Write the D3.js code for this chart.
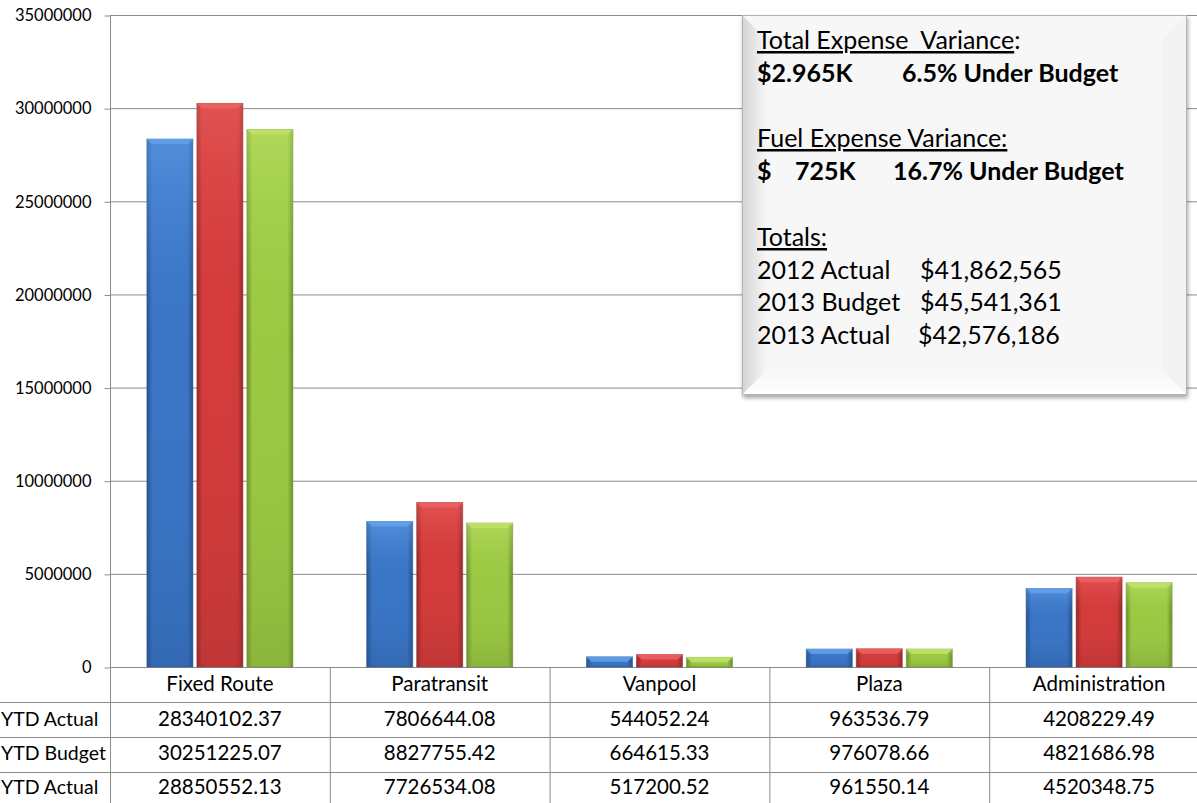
<!DOCTYPE html>
<html>
<head>
<meta charset="utf-8">
<script src="https://cdn.jsdelivr.net/npm/d3@7/dist/d3.min.js"></script>
<style>
  body { margin: 0; background: #fff; }
  svg { display: block; font-family: Lato, "Open Sans", sans-serif; }
</style>
</head>
<body>
<div id="chart"></div>
<script>
// data
const categories = ["Fixed Route", "Paratransit", "Vanpool", "Plaza", "Administration"]
const seriesYears = ["2012", "2013", "2013"]
const seriesLabels = ["YTD Actual", "YTD Budget", "YTD Actual"]
const seriesNames = seriesYears.map((y, i) => y + " " + seriesLabels[i])
const actual2012 = [28340102.37, 7806644.08, 544052.24, 963536.79, 4208229.49]
const budget2013 = [30251225.07, 8827755.42, 664615.33, 976078.66, 4821686.98]
const actual2013 = [28850552.13, 7726534.08, 517200.52, 961550.14, 4520348.75]
const yTicks = [0, 5000000, 10000000, 15000000, 20000000, 25000000, 30000000, 35000000]
const tableText = [
  ["28340102.37", "7806644.08", "544052.24", "963536.79", "4208229.49"],
  ["30251225.07", "8827755.42", "664615.33", "976078.66", "4821686.98"],
  ["28850552.13", "7726534.08", "517200.52", "961550.14", "4520348.75"]
]

const series = [actual2012, budget2013, actual2013]

const width = 1197
const height = 803
const plotLeft = 110
const plotRight = 1209   // plot runs past the right edge, as in the picture
const plotTop = 15
const base = 667
const rowLines = [702, 737, 772]
const rowMid = [684, 719, 753, 787]
const cellFont = 20.5

const svg = d3.select("#chart").append("svg")
    .attr("width", width)
    .attr("height", height)

const defs = svg.append("defs")

const palette = [
  { main: "#3b76c6", light: "#64a2ea", dark: "#2a5a9a", edge: "#244f88" },
  { main: "#d43c3c", light: "#ec6464", dark: "#a52f2f", edge: "#902727" },
  { main: "#9cc944", light: "#c0e46c", dark: "#789d32", edge: "#688a2b" }
]

palette.forEach((c, i) => {
  const g = defs.append("linearGradient").attr("id", "barH" + i)
      .attr("x1", 0).attr("x2", 1).attr("y1", 0).attr("y2", 0)
  g.append("stop").attr("offset", "0").attr("stop-color", c.edge)
  g.append("stop").attr("offset", "0.12").attr("stop-color", c.main)
  g.append("stop").attr("offset", "0.88").attr("stop-color", c.main)
  g.append("stop").attr("offset", "1").attr("stop-color", c.edge)

  const v = defs.append("linearGradient").attr("id", "barV" + i)
      .attr("x1", 0).attr("x2", 0).attr("y1", 0).attr("y2", 1)
  v.append("stop").attr("offset", "0").attr("stop-color", c.light).attr("stop-opacity", 0.55)
  v.append("stop").attr("offset", "0.4").attr("stop-color", c.main).attr("stop-opacity", 0)
  v.append("stop").attr("offset", "1").attr("stop-color", c.dark).attr("stop-opacity", 0.45)
})

const bevelL = defs.append("linearGradient").attr("id", "bevelL")
    .attr("x1", 0).attr("x2", 1).attr("y1", 0).attr("y2", 0)
bevelL.append("stop").attr("offset", "0").attr("stop-color", "#d4d4d4")
bevelL.append("stop").attr("offset", "1").attr("stop-color", "#f6f6f6")

const bevelB = defs.append("linearGradient").attr("id", "bevelB")
    .attr("x1", 0).attr("x2", 0).attr("y1", 0).attr("y2", 1)
bevelB.append("stop").attr("offset", "0").attr("stop-color", "#f7f7f7")
bevelB.append("stop").attr("offset", "1").attr("stop-color", "#ffffff")

const shadow = defs.append("filter").attr("id", "shadow")
    .attr("x", "-5%").attr("y", "-5%").attr("width", "115%").attr("height", "115%")
shadow.append("feDropShadow").attr("dx", 1).attr("dy", 3).attr("stdDeviation", 2)
    .attr("flood-color", "#000").attr("flood-opacity", 0.35)

// scales
const yScale = d3.scaleLinear().domain([0, 35000000]).range([base, plotTop])
const xScale = d3.scaleBand().domain(categories).range([plotLeft, plotRight])
const inner = d3.scaleBand().domain(seriesNames).range([0, 146]).paddingInner(0.08)
const groupOffset = (xScale.bandwidth() - 146) / 2

// gridlines
svg.append("g")
  .selectAll("line")
  .data(yTicks)
  .join("line")
    .attr("x1", plotLeft)
    .attr("x2", plotRight)
    .attr("y1", d => yScale(d) + 0.5)
    .attr("y2", d => yScale(d) + 0.5)
    .attr("stroke", "#8c8c8c")

// y axis
const yAxis = d3.axisLeft(yScale)
    .tickValues(yTicks)
    .tickFormat(d => String(d))
    .tickSize(6)
    .tickPadding(13)

const yg = svg.append("g")
    .attr("transform", "translate(" + (plotLeft + 0.5) + ",0.5)")
    .call(yAxis)
yg.select(".domain").remove()
yg.selectAll(".tick line").attr("stroke", "#8c8c8c")
yg.selectAll(".tick text")
    .attr("font-family", "Lato, sans-serif")
    .attr("font-size", 16.5)
    .attr("fill", "#000")

svg.append("line")
    .attr("x1", plotLeft + 0.5).attr("x2", plotLeft + 0.5)
    .attr("y1", plotTop).attr("y2", height)
    .attr("stroke", "#8c8c8c")

// bars
const bars = []
series.forEach((vals, s) => {
  vals.forEach((v, c) => bars.push({ s: s, cat: categories[c], value: v }))
})

const barX = d => xScale(d.cat) + groupOffset + inner(seriesNames[d.s])
const barW = inner.bandwidth()

const barG = svg.append("g")
barG.selectAll("rect.bar")
  .data(bars)
  .join("rect")
    .attr("class", "bar")
    .attr("x", barX)
    .attr("y", d => yScale(d.value))
    .attr("width", barW)
    .attr("height", d => base - yScale(d.value))
    .attr("fill", d => "url(#barH" + d.s + ")")
    .attr("stroke", d => palette[d.s].edge)
    .attr("stroke-opacity", 0.5)

barG.selectAll("rect.shade")
  .data(bars)
  .join("rect")
    .attr("class", "shade")
    .attr("x", barX)
    .attr("y", d => yScale(d.value))
    .attr("width", barW)
    .attr("height", d => base - yScale(d.value))
    .attr("fill", d => "url(#barV" + d.s + ")")

// top bevel of each bar
barG.selectAll("path.cap")
  .data(bars)
  .join("path")
    .attr("class", "cap")
    .attr("d", d => {
      const x0 = barX(d), y0 = yScale(d.value)
      const h = Math.min(5, (base - y0) / 2)
      return "M" + x0 + "," + y0 + "H" + (x0 + barW) + "l-5," + h + "H" + (x0 + 5) + "Z"
    })
    .attr("fill", d => palette[d.s].light)
    .attr("opacity", 0.8)

// data table under the chart
const table = svg.append("g")

table.selectAll("line.row")
  .data(rowLines)
  .join("line")
    .attr("class", "row")
    .attr("x1", 0).attr("x2", plotRight)
    .attr("y1", d => d + 0.5).attr("y2", d => d + 0.5)
    .attr("stroke", "#8c8c8c")

table.selectAll("line.col")
  .data(categories.slice(1))
  .join("line")
    .attr("class", "col")
    .attr("x1", d => xScale(d) + 0.5).attr("x2", d => xScale(d) + 0.5)
    .attr("y1", base).attr("y2", height)
    .attr("stroke", "#8c8c8c")

table.selectAll("text.head")
  .data(categories)
  .join("text")
    .attr("class", "head")
    .attr("x", d => xScale(d) + xScale.bandwidth() / 2)
    .attr("y", rowMid[0] + 7)
    .attr("text-anchor", "middle")
    .attr("font-size", cellFont)
    .text(d => d)

tableText.forEach((row, r) => {
  table.append("text")
      .attr("x", 1)
      .attr("y", rowMid[r + 1] + 7)
      .attr("font-size", 19.5)
      .text(seriesLabels[r])

  table.selectAll("text.cell" + r)
    .data(row)
    .join("text")
      .attr("class", "cell" + r)
      .attr("x", (d, i) => xScale(categories[i]) + xScale.bandwidth() / 2)
      .attr("y", rowMid[r + 1] + 7)
      .attr("text-anchor", "middle")
      .attr("font-size", cellFont)
      .text(d => d)
})

// text box with bevel
const box = { x: 742, y: 15, w: 445, h: 380, b: 24 }
const note = svg.append("g")

note.append("rect")
    .attr("x", box.x).attr("y", box.y)
    .attr("width", box.w).attr("height", box.h)
    .attr("fill", "#f7f7f7")
    .attr("filter", "url(#shadow)")

note.append("path")
    .attr("d", "M" + box.x + "," + box.y + "l" + box.b + "," + box.b +
               "V" + (box.y + box.h - box.b) + "L" + box.x + "," + (box.y + box.h) + "Z")
    .attr("fill", "url(#bevelL)")

note.append("path")
    .attr("d", "M" + box.x + "," + (box.y + box.h) + "l" + box.b + "," + (-box.b) +
               "H" + (box.x + box.w - box.b) + "L" + (box.x + box.w) + "," + (box.y + box.h) + "Z")
    .attr("fill", "url(#bevelB)")

note.append("path")
    .attr("d", "M" + (box.x + box.w) + "," + box.y + "l" + (-box.b) + "," + box.b +
               "V" + (box.y + box.h - box.b) + "L" + (box.x + box.w) + "," + (box.y + box.h) + "Z")
    .attr("fill", "#f3f3f3")

note.append("rect")
    .attr("x", box.x + 0.5).attr("y", box.y + 0.5)
    .attr("width", box.w - 1).attr("height", box.h - 1)
    .attr("fill", "none")
    .attr("stroke", "#b4b4b4")

const tx = 757
const fs = 25

function noteLine(y, parts, bold) {
  const t = note.append("text")
      .attr("y", y)
      .attr("font-size", fs)
      .attr("font-weight", bold ? "bold" : "normal")
      .style("white-space", "pre")
  parts.forEach(p => {
    const s = t.append("tspan").text(p.t)
    if (p.x !== undefined) s.attr("x", p.x)
    if (p.u) s.style("text-decoration", "underline")
  })
}

noteLine(49, [{ x: tx, t: "Total Expense  Variance", u: true }, { t: ":" }])
noteLine(82, [{ x: tx, t: "$2.965K" }, { x: 902, t: "6.5% Under Budget" }], true)
noteLine(147, [{ x: tx, t: "Fuel Expense Variance:", u: true }])
noteLine(180, [{ x: tx, t: "$" }, { x: 795, t: "725K" }, { x: 893, t: "16.7% Under Budget" }], true)
noteLine(246, [{ x: tx, t: "Totals:", u: true }])
noteLine(279, [{ x: tx, t: "2012 Actual" }, { x: 920, t: "$41,862,565" }])
noteLine(311, [{ x: tx, t: "2013 Budget" }, { x: 920, t: "$45,541,361" }])
noteLine(344, [{ x: tx, t: "2013 Actual" }, { x: 918, t: "$42,576,186" }])
</script>
</body>
</html>
